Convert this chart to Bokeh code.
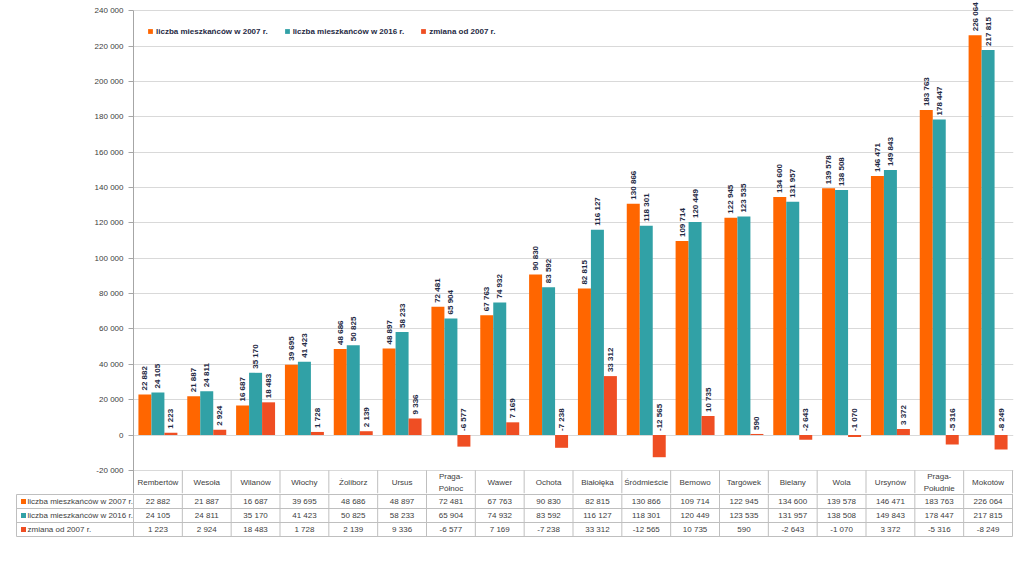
import math
from bokeh.plotting import figure
from bokeh.models import ColumnDataSource, FixedTicker, Legend, LegendItem, Range1d
from bokeh.core.properties import value
from bokeh.embed import file_html
from bokeh.resources import INLINE

districts = ["Rembertów", "Wesoła", "Wilanów", "Włochy", "Żoliborz", "Ursus",
             "Praga-Północ", "Wawer", "Ochota", "Białołęka", "Śródmieście", "Bemowo",
             "Targówek", "Bielany", "Wola", "Ursynów", "Praga-Południe", "Mokotów"]
header_names = ["Rembertów", "Wesoła", "Wilanów", "Włochy", "Żoliborz", "Ursus",
                "Praga-\nPółnoc", "Wawer", "Ochota", "Białołęka", "Śródmieście", "Bemowo",
                "Targówek", "Bielany", "Wola", "Ursynów", "Praga-\nPołudnie", "Mokotów"]
pop_2007 = [22882, 21887, 16687, 39695, 48686, 48897, 72481, 67763, 90830, 82815,
            130866, 109714, 122945, 134600, 139578, 146471, 183763, 226064]
pop_2016 = [24105, 24811, 35170, 41423, 50825, 58233, 65904, 74932, 83592, 116127,
            118301, 120449, 123535, 131957, 138508, 149843, 178447, 217815]
change = [1223, 2924, 18483, 1728, 2139, 9336, -6577, 7169, -7238, 33312,
          -12565, 10735, 590, -2643, -1070, 3372, -5316, -8249]
series_names = ["liczba mieszkańców w 2007 r.", "liczba mieszkańców w 2016 r.", "zmiana od 2007 r."]
y_ticks = list(range(-20000, 240001, 20000))

COLORS = ["#FF6600", "#31A1A6", "#EF4E23"]
LABEL_COLOR = "#1F2A44"
TEXT_COLOR = "#404040"
LINE_COLOR = "#BFBFBF"
SANS_NAME = "Liberation Sans"
SANS = value(SANS_NAME)


def fmt(v):
    return f"{v:,}".replace(",", " ")


n = len(districts)
idx = list(range(n))
series = [pop_2007, pop_2016, change]

W = 1024
CW = 879 / 18.0          # px per category
PX = 1.768 / 1000.0      # px per unit on the value axis
ZERO_PX = 434.5          # canvas pixel of value 0
A_H = 493
y_end = ZERO_PX / PX
y_start = (ZERO_PX - A_H) / PX
header_bottom = (ZERO_PX - 494) / PX
header_y = (y_ticks[0] + header_bottom) / 2.0

pa = figure(width=W, height=A_H, output_backend="svg", toolbar_location=None,
            x_range=Range1d(-0.5, n - 0.5 + 1 / CW), y_range=Range1d(y_start, y_end),
            x_axis_location=None, min_border_left=133, min_border_right=W - 133 - 880,
            min_border_top=0, min_border_bottom=0)
pa.outline_line_color = None
pa.background_fill_color = "white"
pa.border_fill_color = "white"

pa.yaxis.ticker = FixedTicker(ticks=y_ticks)
pa.yaxis.bounds = (y_start, y_ticks[-1])
pa.yaxis.major_label_overrides = {t: fmt(t) for t in y_ticks}
pa.yaxis.major_label_text_font = SANS_NAME
pa.yaxis.major_label_text_font_size = "8px"
pa.yaxis.major_label_text_color = TEXT_COLOR
pa.yaxis.major_tick_out = 5
pa.yaxis.major_tick_in = 0
pa.yaxis.minor_tick_line_color = None
pa.yaxis.axis_line_color = "#A6A6A6"
pa.yaxis.major_tick_line_color = "#A6A6A6"
pa.yaxis.major_label_standoff = 5
pa.ygrid.ticker = FixedTicker(ticks=y_ticks)
pa.ygrid.grid_line_color = "#D9D9D9"
pa.xgrid.grid_line_color = None

bw = 0.266
offsets = [-bw, 0.0, bw]
renderers = []
for s, vals in enumerate(series):
    xs = [i + offsets[s] for i in idx]
    src = ColumnDataSource(dict(x=xs, top=vals,
                                ly=[max(v, 0) for v in vals],
                                txt=[fmt(v) for v in vals]))
    r = pa.vbar(x="x", top="top", bottom=0, width=bw, source=src,
                fill_color=COLORS[s], line_color=None)
    renderers.append(r)
    pa.text(x="x", y="ly", text="txt", source=src, angle=math.pi / 2,
            text_align="left", text_baseline="middle", y_offset=-4,
            text_font=SANS, text_font_style="bold", text_font_size="8px",
            text_color=LABEL_COLOR)

# header row of the data table (inside the chart figure)
bounds_x = [i - 0.5 for i in range(n + 1)]
pa.segment(x0=bounds_x[1:], y0=[y_ticks[0]] * n, x1=bounds_x[1:], y1=[y_start] * n,
           line_color=LINE_COLOR, line_width=1)
pa.text(x=idx, y=[header_y] * n, text=header_names, text_align="center",
        text_baseline="middle", text_font=SANS, text_font_size="8px",
        text_color=TEXT_COLOR, text_line_height=1.3)

legend = Legend(items=[LegendItem(label=series_names[s], renderers=[renderers[s]]) for s in range(3)],
                location=(14, 457), orientation="horizontal")
legend.border_line_color = None
legend.background_fill_alpha = 0
legend.padding = 0
legend.margin = 0
legend.spacing = 16
legend.label_standoff = 3
legend.glyph_width = 6
legend.glyph_height = 6
legend.label_height = 10
legend.label_text_font = SANS_NAME
legend.label_text_font_style = "bold"
legend.label_text_font_size = "8px"
legend.label_text_color = LABEL_COLOR
pa.add_layout(legend)

# ---- data table rows ----
B_H = 565 - A_H
pb = figure(width=W, height=B_H, output_backend="svg", toolbar_location=None,
            x_range=Range1d(-0.5 - 133 / CW, n - 0.5 + (W - 133 - 879) / CW),
            y_range=Range1d(0, B_H),
            x_axis_location=None, y_axis_location=None,
            min_border_left=0, min_border_right=0, min_border_top=0, min_border_bottom=0)
pb.outline_line_color = None
pb.xgrid.grid_line_color = None
pb.ygrid.grid_line_color = None
pb.background_fill_color = "white"
pb.border_fill_color = "white"

row_h = 14
top_line = B_H - 1
row_lines = [top_line - k * row_h for k in range(4)]
row_centers = [top_line - (k + 0.5) * row_h for k in range(3)]
col_left = -0.5 - 117 / CW

pb.segment(x0=[col_left] * 4, y0=row_lines, x1=[n - 0.5] * 4, y1=row_lines,
           line_color=LINE_COLOR, line_width=1)
pb.segment(x0=bounds_x, y0=[B_H] * (n + 1), x1=bounds_x, y1=[row_lines[-1]] * (n + 1),
           line_color=LINE_COLOR, line_width=1)
pb.segment(x0=[col_left], y0=[row_lines[0]], x1=[col_left], y1=[row_lines[-1]],
           line_color=LINE_COLOR, line_width=1)

for s, vals in enumerate(series):
    pb.text(x=idx, y=[row_centers[s]] * n, text=[fmt(v) for v in vals],
            text_align="center", text_baseline="middle", text_font=SANS,
            text_font_size="8px", text_color=TEXT_COLOR)
pb.scatter(x=[-0.5 - 110 / CW] * 3, y=row_centers, marker="square", size=5,
           fill_color=COLORS, line_color=None)
pb.text(x=[-0.5 - 106 / CW] * 3, y=row_centers, text=series_names, text_align="left",
        text_baseline="middle", text_font=SANS, text_font_size="8px", text_color=TEXT_COLOR)

open("out.html", "w").write(file_html([pa, pb], INLINE))
